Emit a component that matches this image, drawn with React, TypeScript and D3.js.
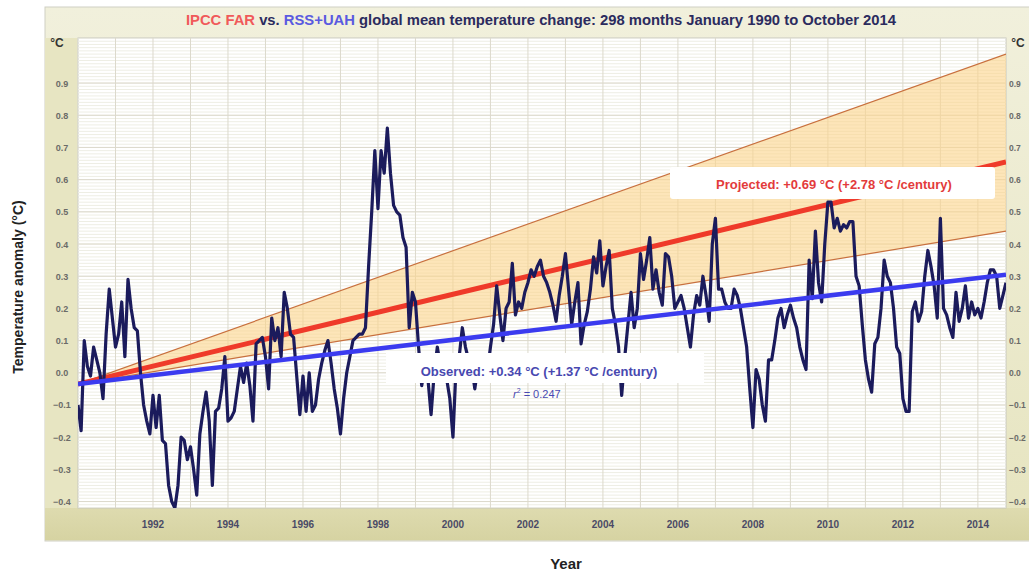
import React from 'react';
import * as d3 from 'd3';

// ---------- DATA ----------
const startYear = 1990;
const endYear = 2014.75;

// RSS+UAH mean monthly anomaly (°C), Jan 1990 .. Oct 2014 (298 months)
const y1990 = [-0.10, -0.18, 0.10, 0.02, -0.01, 0.08, 0.04, 0.00, -0.08, 0.12, 0.26, 0.17];
const y1991 = [0.08, 0.12, 0.22, 0.05, 0.29, 0.20, 0.14, 0.13, 0.00, -0.10, -0.15, -0.19];
const y1992 = [-0.07, -0.17, -0.07, -0.21, -0.22, -0.35, -0.40, -0.42, -0.35, -0.20, -0.21, -0.27];
const y1993 = [-0.23, -0.30, -0.38, -0.19, -0.12, -0.06, -0.15, -0.35, -0.12, -0.11, -0.05, 0.05];
const y1994 = [-0.15, -0.14, -0.12, -0.05, 0.02, -0.03, 0.03, -0.04, -0.15, 0.09, 0.10, 0.11];
const y1995 = [0.05, -0.05, 0.17, 0.10, 0.14, 0.05, 0.25, 0.20, 0.12, 0.11, -0.01, -0.13];
const y1996 = [-0.01, -0.12, 0.00, -0.12, -0.10, -0.02, 0.03, 0.07, 0.10, 0.03, -0.05, -0.11];
const y1997 = [-0.19, -0.08, 0.00, 0.05, 0.10, 0.11, 0.12, 0.12, 0.14, 0.33, 0.50, 0.69];
const y1998 = [0.51, 0.69, 0.62, 0.76, 0.62, 0.52, 0.50, 0.49, 0.42, 0.39, 0.14, 0.25];
const y1999 = [0.22, 0.08, -0.04, 0.02, -0.02, -0.13, 0.00, 0.08, 0.02, 0.03, -0.02, -0.08];
const y2000 = [-0.20, 0.02, 0.05, 0.14, 0.08, 0.04, 0.02, -0.05, 0.02, 0.03, 0.01, 0.00];
const y2001 = [0.08, 0.15, 0.27, 0.18, 0.10, 0.20, 0.22, 0.34, 0.18, 0.22, 0.20, 0.25];
const y2002 = [0.28, 0.32, 0.30, 0.33, 0.35, 0.30, 0.28, 0.25, 0.21, 0.16, 0.24, 0.30];
const y2003 = [0.37, 0.26, 0.15, 0.22, 0.28, 0.09, 0.15, 0.19, 0.26, 0.36, 0.31, 0.41];
const y2004 = [0.27, 0.33, 0.38, 0.20, 0.15, 0.08, -0.07, 0.05, 0.15, 0.25, 0.14, 0.20];
const y2005 = [0.37, 0.29, 0.35, 0.42, 0.26, 0.32, 0.25, 0.21, 0.37, 0.36, 0.30, 0.20];
const y2006 = [0.22, 0.24, 0.20, 0.14, 0.08, 0.18, 0.24, 0.21, 0.30, 0.24, 0.16, 0.40];
const y2007 = [0.48, 0.26, 0.26, 0.22, 0.20, 0.20, 0.26, 0.24, 0.20, 0.14, 0.08, -0.05];
const y2008 = [-0.17, 0.01, -0.02, -0.10, -0.15, 0.04, 0.04, 0.10, 0.17, 0.20, 0.14, 0.18];
const y2009 = [0.21, 0.17, 0.14, 0.08, 0.04, 0.01, 0.35, 0.23, 0.44, 0.28, 0.22, 0.40];
const y2010 = [0.53, 0.53, 0.45, 0.48, 0.44, 0.46, 0.45, 0.47, 0.47, 0.30, 0.27, 0.15];
const y2011 = [0.04, -0.02, -0.06, 0.09, 0.11, 0.20, 0.35, 0.30, 0.28, 0.20, 0.08, 0.06];
const y2012 = [-0.08, -0.12, -0.12, 0.19, 0.22, 0.16, 0.19, 0.30, 0.38, 0.33, 0.27, 0.17];
const y2013 = [0.48, 0.20, 0.18, 0.14, 0.11, 0.25, 0.16, 0.20, 0.27, 0.17, 0.22, 0.18];
const y2014 = [0.20, 0.17, 0.22, 0.28, 0.32, 0.32, 0.30, 0.20, 0.24, 0.28];

const monthly = [
  ...y1990, ...y1991, ...y1992, ...y1993, ...y1994, ...y1995, ...y1996, ...y1997,
  ...y1998, ...y1999, ...y2000, ...y2001, ...y2002, ...y2003, ...y2004, ...y2005,
  ...y2006, ...y2007, ...y2008, ...y2009, ...y2010, ...y2011, ...y2012, ...y2013, ...y2014,
];

// trend / projection end points (°C)
const fanStart = -0.035;
const projectedEnd = 0.655;
const upperEnd = 0.99;
const lowerEnd = 0.44;
const observedEnd = 0.305;

const yTicks = [0.9, 0.8, 0.7, 0.6, 0.5, 0.4, 0.3, 0.2, 0.1, 0.0, -0.1, -0.2, -0.3, -0.4];
const xTicks = [1992, 1994, 1996, 1998, 2000, 2002, 2004, 2006, 2008, 2010, 2012, 2014];

const titleParts = [
  { t: 'IPCC FAR', c: '#f05a5a' },
  { t: ' vs. ', c: '#2b2b5e' },
  { t: 'RSS+UAH', c: '#5a5ae0' },
  { t: ' global mean temperature change: 298 months January 1990 to October 2014', c: '#2b2b5e' },
];

// ---------- LAYOUT ----------
const W = 1029, H = 573;
const L = 78, R = 1006, T = 38, B = 508;

export default function App() {
  const x = d3.scaleLinear().domain([startYear, endYear]).range([L, R]);
  const y = d3.scaleLinear().domain([-0.42, 1.04]).range([B, T]);

  const pts: [number, number][] = monthly.map((v, i) => [startYear + i / 12, v]);
  const line = d3.line<[number, number]>().x(d => x(d[0])).y(d => y(d[1]));

  const fan = d3.area<[number, number, number]>()
    .x(d => x(d[0])).y0(d => y(d[1])).y1(d => y(d[2]));
  const fanData: [number, number, number][] = [
    [startYear, fanStart, fanStart],
    [endYear, lowerEnd, upperEnd],
  ];

  const minor = d3.range(-42, 105, 1).map(k => k / 100);
  const years = d3.range(1991, 2015);
  const fmt = (v: number) => (v < 0 ? '\u2212' : '') + Math.abs(v).toFixed(1);

  return (
    <svg width={W} height={H} style={{ position: 'absolute', left: 0, top: 0, background: '#fff' }}
      fontFamily="'Liberation Sans', Arial, sans-serif">
      <defs>
        <linearGradient id="panelG" x1="0" y1="0" x2="0" y2="1">
          <stop offset="0" stopColor="#f1f0dc" />
          <stop offset="1" stopColor="#e6e4bf" />
        </linearGradient>
        <linearGradient id="bandG" x1="0" y1="0" x2="0" y2="1">
          <stop offset="0" stopColor="#dedbaf" />
          <stop offset="1" stopColor="#d6d3a2" />
        </linearGradient>
        <clipPath id="plotClip"><rect x={L} y={T} width={R - L} height={B - T} /></clipPath>
      </defs>

      {/* outer panel */}
      <rect x={45} y={7} width={W - 45 + 5} height={534} fill="url(#panelG)" stroke="#cfcfc4" />
      <rect x={45} y={B} width={W - 45} height={32} fill="url(#bandG)" />
      <rect x={45} y={38} width={32} height={B - 38} fill="#e7e5c2" />

      {/* plot area */}
      <rect x={L} y={T} width={R - L} height={B - T} fill="#ffffff" stroke="#c8c8c0" />
      <g clipPath="url(#plotClip)">
        {minor.map(v => (
          <line key={'m' + v} x1={L} x2={R} y1={y(v)} y2={y(v)} stroke="#eeeee4" strokeWidth={1} />
        ))}
        {yTicks.map(v => (
          <line key={'M' + v} x1={L} x2={R} y1={y(v)} y2={y(v)} stroke="#dcd9cc" strokeWidth={1} />
        ))}
        {years.map(yr => (
          <line key={'v' + yr} x1={x(yr)} x2={x(yr)} y1={T} y2={B} stroke="#dcd9cc" strokeWidth={1} />
        ))}

        {/* projection fan */}
        <path d={fan(fanData) || ''} fill="#fbd38a" fillOpacity={0.6} />
        <line x1={x(startYear)} y1={y(fanStart)} x2={x(endYear)} y2={y(upperEnd)} stroke="#c8703e" strokeWidth={1.2} />
        <line x1={x(startYear)} y1={y(fanStart)} x2={x(endYear)} y2={y(lowerEnd)} stroke="#c8703e" strokeWidth={1.2} />
        <line x1={x(startYear)} y1={y(fanStart)} x2={x(endYear)} y2={y(projectedEnd)} stroke="#ef3a2a" strokeWidth={5} />

        {/* observed data */}
        <path d={line(pts) || ''} fill="none" stroke="#1b1b5c" strokeWidth={3.2} strokeLinejoin="round" />

        {/* observed trend */}
        <line x1={x(startYear)} y1={y(fanStart)} x2={x(endYear)} y2={y(observedEnd)} stroke="#3b3bef" strokeWidth={4.5} />
      </g>

      {/* labels */}
      <rect x={670} y={167} width={325} height={32} fill="#ffffff" rx={3} />
      <text x={834} y={189} textAnchor="middle" fontSize={13} fontWeight="bold" fill="#e33b3b">
        Projected: +0.69 °C (+2.78 °C /century)
      </text>
      <rect x={386} y={353} width={318} height={30} fill="#ffffff" />
      <text x={539} y={376} textAnchor="middle" fontSize={13} fontWeight="bold" fill="#4848b0">
        Observed: +0.34 °C (+1.37 °C /century)
      </text>
      <text x={513} y={398} fontSize={11} fill="#4848b0">
        <tspan fontStyle="italic">r</tspan>
        <tspan fontSize={7} dy={-5}>2</tspan>
        <tspan dy={5}> = 0.247</tspan>
      </text>

      {/* title */}
      <text x={541} y={25} textAnchor="middle" fontSize={14.8} fontWeight="bold">
        {titleParts.map((p, i) => <tspan key={i} fill={p.c} style={{ whiteSpace: 'pre' }}>{p.t}</tspan>)}
      </text>

      {/* axes labels */}
      <text x={57} y={47} textAnchor="middle" fontSize={12} fontWeight="bold" fill="#333">°C</text>
      <text x={1018} y={47} textAnchor="middle" fontSize={12} fontWeight="bold" fill="#333">°C</text>
      {yTicks.map(v => (
        <text key={'l' + v} x={62} y={y(v) + 3.5} textAnchor="middle" fontSize={9} fontWeight="bold" fill="#6b6b68">{fmt(v)}</text>
      ))}
      {yTicks.map(v => (
        <text key={'r' + v} x={1009} y={y(v) + 3.5} textAnchor="start" fontSize={8.5} fontWeight="bold" fill="#6b6b68">{fmt(v)}</text>
      ))}
      {xTicks.map(t => (
        <text key={'x' + t} x={x(t)} y={528} textAnchor="middle" fontSize={10} fontWeight="bold" fill="#4a4a66">{t}</text>
      ))}
      <text x={566} y={569} textAnchor="middle" fontSize={15} fontWeight="bold" fill="#222">Year</text>
      <text transform={`translate(23,287) rotate(-90)`} textAnchor="middle" fontSize={14} fontWeight="bold" fill="#222">
        Temperature anomaly (°C)
      </text>
    </svg>
  );
}
